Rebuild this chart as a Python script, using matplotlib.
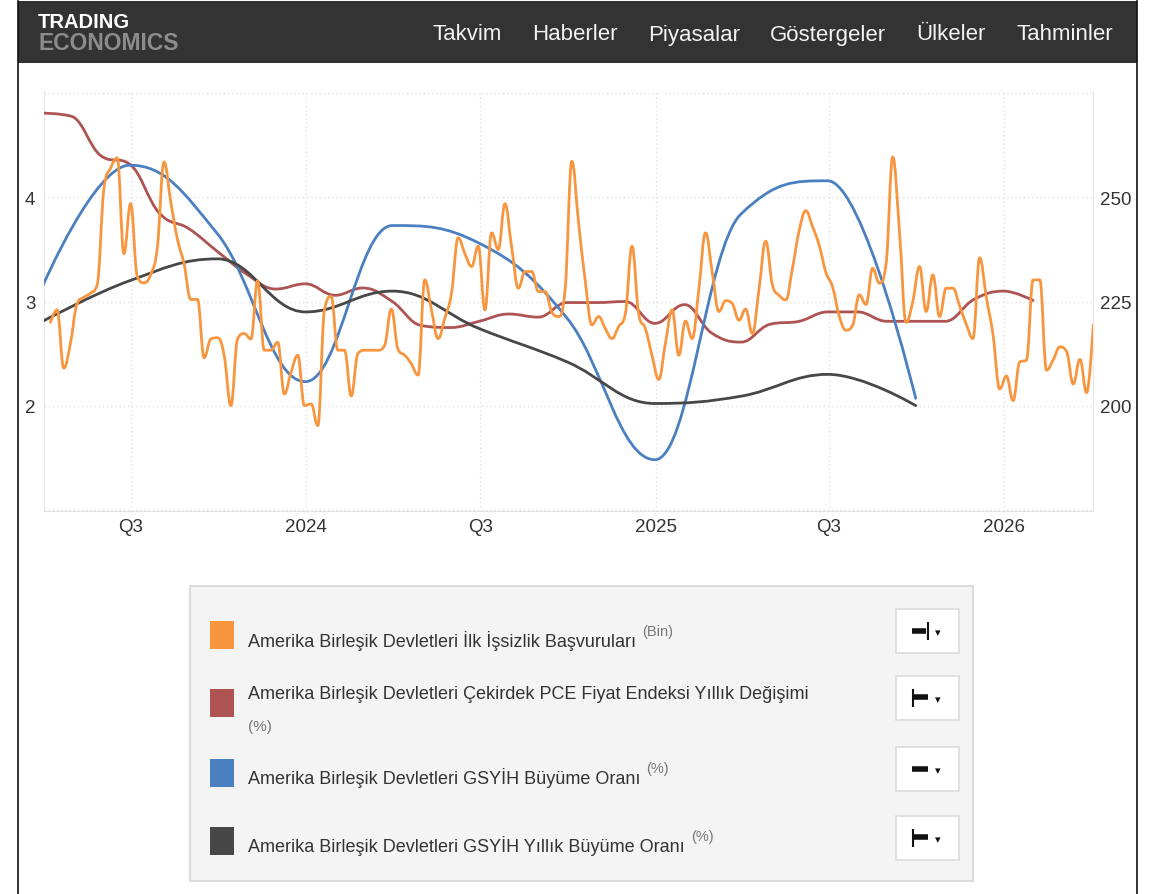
import numpy as np
import pandas as pd
import matplotlib
matplotlib.use("Agg")
import matplotlib.pyplot as plt
import matplotlib.dates as mdates
from matplotlib.path import Path
from matplotlib.patches import PathPatch, Rectangle
from matplotlib.lines import Line2D

W, H = 1158, 895
FONT = ["Liberation Sans", "DejaVu Sans"]
plt.rcParams["font.family"] = FONT

# ---- data ----
claims_start = "2023-04-08"   # weekly, thousands (right axis)
claims = [
    220, 223, 209, 215, 224.5, 226, 227, 229, 252, 257, 259.5, 236.5,
    248.5, 231, 229.5, 231.5, 238, 258.5, 249, 240, 234, 225.5, 225.5, 211.5,
    216, 216.3, 212, 200, 216, 217.3, 216, 230, 213.3, 213.3, 215.2, 202.8,
    208, 212.1, 200, 200.4, 195.2, 223, 226.2, 213.3, 213.3, 202.3, 212.5, 213.3,
    213.3, 213.3, 214.5, 223.2, 213.5, 212.1, 210, 207.3, 230.2, 223, 216.1, 221,
    227, 240.3, 236.5, 233.4, 238.3, 223, 241.5, 237.5, 248.5, 238, 228.2, 232.2,
    232.2, 227.4, 227.4, 222.5, 221.4, 228, 258.7, 244, 230, 219.4, 221.4, 218.5,
    216.1, 219, 222, 238.3, 222, 218.5, 212, 206.3, 215, 223, 212.1, 220.3,
    216.1, 228, 241.5, 232, 222.6, 225.2, 224.5, 220.5, 223.2, 217.3, 228, 239.5,
    229, 226.5, 225.4, 233, 242, 246.8, 243, 238.5, 232, 228.5, 221.5, 218.1,
    219.3, 226.6, 224.3, 233, 229.4, 234, 259.7, 242, 220, 225, 233.4, 222.6,
    231.4, 221.4, 228.2, 228.2, 224, 219.5, 216.1, 235.5, 226, 217, 204, 207.1,
    201.2, 210.5, 210.9, 230.2, 230.2, 208.5, 211, 214.1, 213, 205.2, 211.1, 203.1,
    219.4,
]
pce_start = "2023-03-31"      # monthly, % (left axis)
core_pce = [
    4.81, 4.78, 4.40, 4.32, 3.85, 3.70, 3.48, 3.26, 3.12, 3.17,
    3.06, 3.13, 3.00, 2.77, 2.75, 2.81, 2.88, 2.85, 2.99, 2.99, 3.00, 2.79,
    2.97, 2.70, 2.61, 2.78, 2.81, 2.90, 2.90, 2.81, 2.81, 2.81, 3.02, 3.10,
    3.01,
]
gdp_start = "2023-03-31"      # quarterly, % (left axis)
gdp_qoq = [3.15, 4.31, 3.65, 2.23, 3.73, 3.56, 2.84, 1.48, 3.84, 4.16, 2.07]
gdp_yoy = [2.81, 3.20, 3.41, 2.90, 3.10, 2.74, 2.42, 2.02, 2.09, 2.30, 2.00]

x_ticks = ["2023-07-01", "2024-01-01", "2024-07-01", "2025-01-01", "2025-07-01", "2026-01-01"]
x_labels = ["Q3", "2024", "Q3", "2025", "Q3", "2026"]
left_ticks = [1, 2, 3, 4, 5]
left_labels = ["", "2", "3", "4", ""]
right_ticks = [200, 225, 250]

menu = ["Takvim", "Haberler", "Piyasalar", "Göstergeler", "Ülkeler", "Tahminler"]
menu_x = [467, 575, 694, 828, 951, 1065]

legend_names = [
    "Amerika Birleşik Devletleri İlk İşsizlik Başvuruları",
    "Amerika Birleşik Devletleri Çekirdek PCE Fiyat Endeksi Yıllık Değişimi",
    "Amerika Birleşik Devletleri GSYİH Büyüme Oranı",
    "Amerika Birleşik Devletleri GSYİH Yıllık Büyüme Oranı",
]
legend_units = ["(Bin)", "(%)", "(%)", "(%)"]

C_CLAIMS = "#f7963f"
C_PCE = "#ad5453"
C_GDP = "#4a7fc0"
C_YOY = "#474747"
colors = [C_CLAIMS, C_PCE, C_GDP, C_YOY]

claims_dates = pd.date_range(claims_start, periods=len(claims), freq="7D")
pce_dates = pd.date_range(pce_start, periods=len(core_pce), freq=pd.offsets.MonthEnd())
gdp_dates = pd.date_range(gdp_start, periods=len(gdp_qoq), freq=pd.offsets.QuarterEnd())


def px(x, y):
    return x / W, 1 - y / H


def spline_path(xs, ys):
    # highcharts-like smoothed line through the points
    n = len(xs)
    rc = [None] * n
    verts = [(xs[0], ys[0])]
    codes = [Path.MOVETO]
    for i in range(1, n):
        x, y = xs[i], ys[i]
        lc = (x, y)
        if i < n - 1:
            lx, ly = xs[i - 1], ys[i - 1]
            nx, ny = xs[i + 1], ys[i + 1]
            lcx, lcy = (1.5 * x + lx) / 2.5, (1.5 * y + ly) / 2.5
            rcx, rcy = (1.5 * x + nx) / 2.5, (1.5 * y + ny) / 2.5
            corr = 0
            if rcx != lcx:
                corr = (rcy - lcy) * (rcx - x) / (rcx - lcx) + y - rcy
            lcy += corr
            rcy += corr
            if lcy > ly and lcy > y:
                lcy = max(ly, y); rcy = 2 * y - lcy
            elif lcy < ly and lcy < y:
                lcy = min(ly, y); rcy = 2 * y - lcy
            if rcy > ny and rcy > y:
                rcy = max(ny, y); lcy = 2 * y - rcy
            elif rcy < ny and rcy < y:
                rcy = min(ny, y); lcy = 2 * y - rcy
            lc = (lcx, lcy)
            rc[i] = (rcx, rcy)
        prev = rc[i - 1] if rc[i - 1] is not None else (xs[i - 1], ys[i - 1])
        verts += [prev, lc, (x, y)]
        codes += [Path.CURVE4] * 3
    return Path(verts, codes)


def dnum(d):
    return mdates.date2num(pd.to_datetime(d).to_pydatetime())


fig = plt.figure(figsize=(W / 100, H / 100), dpi=100)
fig.patch.set_facecolor("white")

# header bar and page borders
fig.add_artist(Rectangle(px(18, 64), 1119 / W, 62 / H, transform=fig.transFigure,
                         facecolor="#333333", edgecolor="none"))
fig.add_artist(Line2D([18 / W, 18 / W], [0, 1 - 2 / H], transform=fig.transFigure,
                      color="#111111", lw=1.2))
fig.add_artist(Line2D([1137 / W, 1137 / W], [0, 1 - 2 / H], transform=fig.transFigure,
                      color="#111111", lw=1.2))
fig.text(*px(38, 22), "TRADING", color="white", fontsize=14.5, fontweight="bold",
         va="center", ha="left")
fig.text(*px(38, 44), "ECONOMICS", color="#8c8c8c", fontsize=16.5, fontweight="bold",
         va="center", ha="left")
for name, mx in zip(menu, menu_x):
    fig.text(*px(mx, 35), name, color="#f2f2f2", fontsize=16, va="center", ha="center")

# chart
ax = fig.add_axes([43.7 / W, 1 - 511.7 / H, (1093.3 - 43.7) / W, (511.7 - 92.3) / H])
ax2 = ax.twinx()
ax.set_xlim(dnum("2023-04-01"), dnum("2026-04-04"))
ax.set_ylim(0.99, 5.02)
ax2.set_ylim(200 + (0.99 - 2) * 25, 200 + (5.02 - 2) * 25)

for a in (ax, ax2):
    for s in a.spines.values():
        s.set_visible(False)
    a.set_facecolor("none")
ax.spines["bottom"].set_visible(True)
ax.spines["bottom"].set_color("#e3e3e3")
ax.spines["left"].set_visible(True)
ax.spines["left"].set_color("#e8e8e8")
ax2.spines["right"].set_visible(True)
ax2.spines["right"].set_color("#e8e8e8")

ax.set_xticks([dnum(d) for d in x_ticks])
ax.set_xticklabels(x_labels)
ax.set_yticks(left_ticks)
ax.set_yticklabels(left_labels)
ax2.set_yticks(right_ticks)
ax2.set_yticklabels([str(v) for v in right_ticks])
ax.tick_params(axis="both", length=0, labelsize=13.5, labelcolor="#333333")
ax.tick_params(axis="x", pad=5)
ax.tick_params(axis="y", pad=6)
ax2.tick_params(axis="y", length=0, labelsize=13.5, labelcolor="#333333", pad=5)
ax.grid(True, color="#e2e2e2", linestyle=(0, (1, 2)), lw=1.0)

xg = mdates.date2num(gdp_dates.to_pydatetime())
xp = mdates.date2num(pce_dates.to_pydatetime())
xc = mdates.date2num(claims_dates.to_pydatetime())
ax.add_patch(PathPatch(spline_path(xp, core_pce), fill=False, ec=C_PCE, lw=2.0,
                       capstyle="round", joinstyle="round", zorder=3))
ax.add_patch(PathPatch(spline_path(xg, gdp_qoq), fill=False, ec=C_GDP, lw=2.0,
                       capstyle="round", joinstyle="round", zorder=3))
ax.add_patch(PathPatch(spline_path(xg, gdp_yoy), fill=False, ec=C_YOY, lw=2.0,
                       capstyle="round", joinstyle="round", zorder=3))
ax2.add_patch(PathPatch(spline_path(xc, claims), fill=False, ec=C_CLAIMS, lw=2.0,
                        capstyle="round", joinstyle="round", zorder=3))

# legend panel
fig.add_artist(Rectangle(px(190, 882), 783 / W, 295 / H, transform=fig.transFigure,
                         facecolor="#f4f4f4", edgecolor="#dcdcdc", lw=1.5))
fig.canvas.draw()
renderer = fig.canvas.get_renderer()
sq_top = [622, 690, 760, 828]
txt_y = [641, 695, 778, 846]
btn_top = [610, 677, 748, 817]
for i in range(4):
    fig.add_artist(Rectangle(px(210, sq_top[i] + 28), 24 / W, 28 / H,
                             transform=fig.transFigure, facecolor=colors[i],
                             edgecolor="none"))
    t = fig.text(*px(248, txt_y[i]), legend_names[i], color="#333333", fontsize=13,
                 va="center", ha="left")
    if i == 1:
        fig.text(*px(248, 727), legend_units[i], color="#777777", fontsize=11,
                 va="center", ha="left")
    else:
        bb = t.get_window_extent(renderer)
        fig.text((bb.x1 + 6) / W, px(0, txt_y[i] - 9)[1], legend_units[i],
                 color="#777777", fontsize=10.5, va="center", ha="left")
    # axis selector button
    bt = btn_top[i]
    fig.add_artist(Rectangle(px(896, bt + 44), 63 / W, 44 / H, transform=fig.transFigure,
                             facecolor="white", edgecolor="#dcdcdc", lw=1.2))
    cy = bt + 22
    if i == 0:
        segs = [((912, cy), (926, cy), 4), ((928, cy - 9), (928, cy + 9), 1.5)]
    elif i == 2:
        segs = [((912, cy), (928, cy), 4)]
    else:
        segs = [((913, cy - 9), (913, cy + 9), 1.5), ((914, cy - 1), (928, cy - 1), 4)]
    for (x0, y0), (x1, y1), lw in segs:
        fig.add_artist(Line2D([x0 / W, x1 / W], [1 - y0 / H, 1 - y1 / H],
                              transform=fig.transFigure, color="#111111", lw=lw,
                              solid_capstyle="butt"))
    fig.text(*px(938, cy + 1), "▾", color="#111111", fontsize=8, va="center",
             ha="center", family="DejaVu Sans")

fig.savefig("out.png", dpi=100)
